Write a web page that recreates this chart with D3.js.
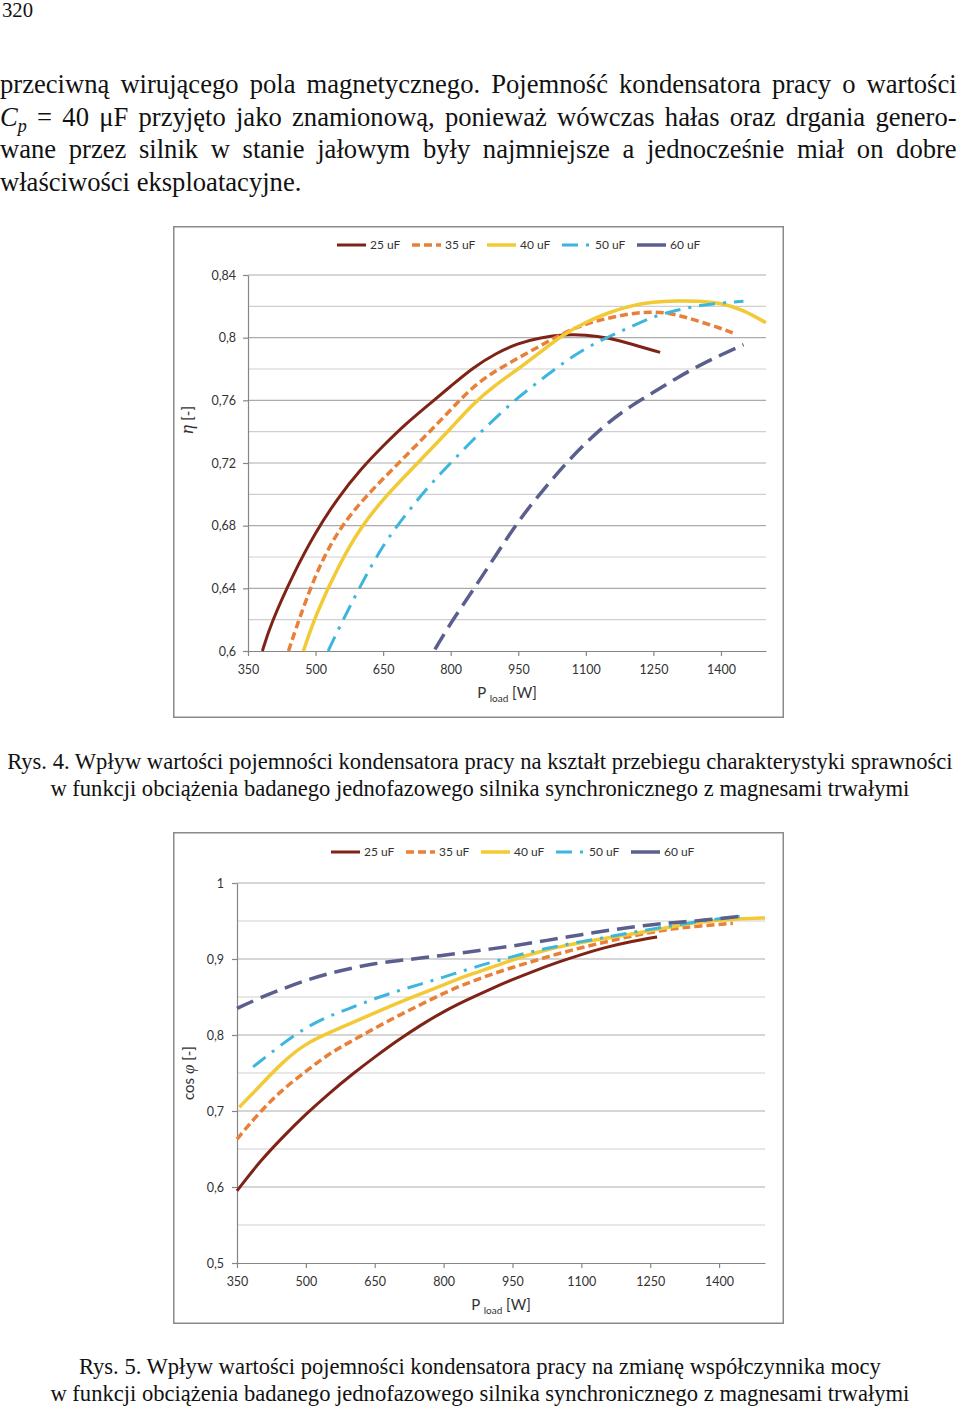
<!DOCTYPE html>
<html>
<head>
<meta charset="utf-8">
<script src="https://cdn.jsdelivr.net/npm/d3@7"></script>
<style>
  body { margin: 0; background: #fff; }
  #page {
    position: relative; width: 960px; height: 1411px; overflow: hidden;
    font-family: "Liberation Serif", "Times New Roman", serif; color: #111;
  }
  .pageno {
    position: absolute; left: 2px; top: 0; font-size: 22px; line-height: 20px;
    transform: scaleX(0.94); transform-origin: 0 0;
  }
  .para {
    position: absolute; left: 0; top: 68px; width: 1007px; font-size: 28px; line-height: 32.5px;
    transform: scaleX(0.95); transform-origin: 0 0;
  }
  .para div { text-align: justify; text-align-last: justify; white-space: nowrap; height: 32.5px; }
  .para div.last { text-align-last: left; }
  .para .sub { position: relative; top: 6px; font-size: 19px; line-height: 0; }
  .caption {
    position: absolute; left: 0; width: 960px; display: flex; justify-content: center;
    font-size: 24px; line-height: 27px;
  }
  .caption span { display: inline-block; white-space: nowrap; text-align: center; transform: scaleX(0.94); }
  svg.chart { position: absolute; left: 173px; font-family: Lato, "Open Sans", sans-serif; }
</style>
</head>
<body>
<div id="page">
  <div class="pageno">320</div>
  <div class="para">
    <div>przeciwną wirującego pola magnetycznego. Pojemność kondensatora pracy o wartości</div>
    <div><i>C<span class="sub">p</span></i> = 40 μF przyjęto jako znamionową, ponieważ wówczas hałas oraz drgania genero-</div>
    <div>wane przez silnik w stanie jałowym były najmniejsze a jednocześnie miał on dobre</div>
    <div class="last">właściwości eksploatacyjne.</div>
  </div>
  <div class="caption" style="top:748px"><span>Rys. 4. Wpływ wartości pojemności kondensatora pracy na kształt przebiegu charakterystyki sprawności<br>w funkcji obciążenia badanego jednofazowego silnika synchronicznego z magnesami trwałymi</span></div>
  <div class="caption" style="top:1353px"><span>Rys. 5. Wpływ wartości pojemności kondensatora pracy na zmianę współczynnika mocy<br>w funkcji obciążenia badanego jednofazowego silnika synchronicznego z magnesami trwałymi</span></div>
</div>
<script>
// ─── Data ───
const seriesNames = ["25 uF", "35 uF", "40 uF", "50 uF", "60 uF"];
const loadTicks = [350, 500, 650, 800, 950, 1100, 1250, 1400];
const etaTicks = [0.6, 0.64, 0.68, 0.72, 0.76, 0.8, 0.84];
const cosTicks = [0.5, 0.6, 0.7, 0.8, 0.9, 1];

// efficiency η [-] vs P_load [W]
const eta25 = [[382, 0.600], [400, 0.617], [450, 0.649], [500, 0.676], [550, 0.698], [600, 0.716],
  [650, 0.731], [700, 0.745], [750, 0.757], [800, 0.769], [850, 0.781], [900, 0.790], [950, 0.7965],
  [1000, 0.800], [1050, 0.802], [1100, 0.8018], [1150, 0.800], [1200, 0.796], [1265, 0.7906]];
const eta35 = [[440, 0.600], [450, 0.609], [500, 0.650], [550, 0.677], [600, 0.695], [650, 0.710],
  [700, 0.7245], [750, 0.739], [800, 0.754], [850, 0.769], [900, 0.779], [950, 0.787], [1000, 0.795],
  [1050, 0.803], [1100, 0.809], [1150, 0.8125], [1200, 0.8155], [1250, 0.8168], [1300, 0.815],
  [1350, 0.8105], [1400, 0.806], [1430, 0.8026]];
const eta40 = [[473, 0.600], [500, 0.623], [550, 0.654], [600, 0.679], [650, 0.697], [700, 0.712],
  [750, 0.727], [800, 0.742], [850, 0.758], [900, 0.770], [950, 0.780], [1000, 0.791], [1050, 0.802],
  [1100, 0.810], [1150, 0.816], [1200, 0.8205], [1250, 0.8228], [1300, 0.8235], [1350, 0.8235],
  [1400, 0.8222], [1450, 0.8178], [1500, 0.8095]];
const eta50 = [[528, 0.600], [550, 0.6135], [600, 0.642], [650, 0.668], [700, 0.687], [750, 0.705],
  [800, 0.720], [850, 0.735], [900, 0.749], [950, 0.762], [1000, 0.773], [1050, 0.784], [1100, 0.7935],
  [1150, 0.8005], [1200, 0.807], [1250, 0.8135], [1300, 0.8175], [1350, 0.8205], [1400, 0.8222],
  [1450, 0.8232]];
const eta60 = [[765, 0.601], [800, 0.618], [850, 0.639], [900, 0.661], [950, 0.683], [1000, 0.701],
  [1050, 0.718], [1100, 0.733], [1150, 0.746], [1200, 0.7565], [1250, 0.765], [1300, 0.774],
  [1350, 0.782], [1400, 0.789], [1450, 0.7955]];

// power factor cos φ [-] vs P_load [W]
const cos25 = [[350, 0.595], [400, 0.634], [450, 0.666], [500, 0.696], [550, 0.723], [600, 0.748],
  [650, 0.771], [700, 0.793], [750, 0.813], [800, 0.831], [850, 0.846], [900, 0.860], [950, 0.873],
  [1000, 0.885], [1050, 0.896], [1100, 0.906], [1150, 0.915], [1200, 0.922], [1265, 0.929]];
const cos35 = [[350, 0.663], [400, 0.699], [450, 0.729], [500, 0.752], [550, 0.7755], [600, 0.792],
  [650, 0.809], [700, 0.825], [750, 0.840], [800, 0.855], [850, 0.868], [900, 0.879], [950, 0.889],
  [1000, 0.898], [1050, 0.907], [1100, 0.915], [1150, 0.922], [1200, 0.929], [1250, 0.935],
  [1300, 0.940], [1350, 0.943], [1430, 0.947]];
const cos40 = [[355, 0.705], [400, 0.733], [450, 0.765], [500, 0.789], [550, 0.803], [600, 0.816],
  [650, 0.829], [700, 0.842], [750, 0.854], [800, 0.866], [850, 0.878], [900, 0.888], [950, 0.899],
  [1000, 0.908], [1050, 0.916], [1100, 0.922], [1150, 0.927], [1200, 0.932], [1250, 0.937],
  [1300, 0.943], [1350, 0.948], [1400, 0.951], [1450, 0.953], [1500, 0.954]];
const cos50 = [[385, 0.758], [450, 0.789], [500, 0.810], [550, 0.825], [600, 0.836], [650, 0.848],
  [700, 0.858], [750, 0.867], [800, 0.876], [850, 0.886], [900, 0.895], [950, 0.903], [1000, 0.911],
  [1050, 0.917], [1100, 0.923], [1150, 0.928], [1200, 0.934], [1250, 0.939], [1300, 0.944],
  [1350, 0.949], [1400, 0.953], [1445, 0.956]];
const cos60 = [[350, 0.835], [400, 0.849], [450, 0.861], [500, 0.872], [550, 0.881], [600, 0.888],
  [650, 0.894], [700, 0.898], [750, 0.901], [800, 0.905], [850, 0.909], [900, 0.913], [950, 0.917],
  [1000, 0.922], [1050, 0.927], [1100, 0.932], [1150, 0.937], [1200, 0.941], [1250, 0.945],
  [1300, 0.948], [1350, 0.950], [1400, 0.953], [1445, 0.956]];

// ─── Styles per series ───
const seriesColors = ["#7E2316", "#E8803A", "#F2CA35", "#3CB6DC", "#5A5F8E"];
const seriesDash = [null, "8,4", null, "16,8,3,8", "18,8"];
const legendDash = [null, "8,4", null, "16,8,3", null];
const seriesWidth = [3, 3.5, 3.5, 3, 3.5];

const fmtComma = (v) => String(+v.toFixed(2)).replace(".", ",");
const W = 611, H = 492;

function drawChart(cfg) {
  const svg = d3.select("#page").append("svg")
    .attr("class", "chart")
    .style("top", cfg.top + "px")
    .attr("width", W).attr("height", H);

  // frame
  svg.append("rect")
    .attr("x", 0.75).attr("y", 0.75)
    .attr("width", W - 1.5).attr("height", H - 1.5)
    .attr("fill", "#fff").attr("stroke", "#8a8a8a").attr("stroke-width", 1.5);

  const m = cfg.margin;
  const x = d3.scaleLinear().domain([350, 1500]).range([m.left, W - m.right]);
  const y = d3.scaleLinear().domain(cfg.yDomain).range([H - m.bottom, m.top]);

  // gridlines (major at labels, minor in between)
  const grid = d3.range(cfg.yDomain[0], cfg.yDomain[1] + cfg.minor / 2, cfg.minor);
  svg.append("g").selectAll("line").data(grid.slice(1)).join("line")
    .attr("x1", m.left).attr("x2", W - m.right)
    .attr("y1", (d) => y(d)).attr("y2", (d) => y(d))
    .attr("stroke", (d, i) => (i % 2 === 1 ? "#ababab" : "#cfcfcf"))
    .attr("stroke-width", 1.2);

  // axes
  const gx = svg.append("g")
    .attr("transform", `translate(0,${H - m.bottom})`)
    .call(d3.axisBottom(x).tickValues(loadTicks).tickSize(5).tickSizeOuter(0)
      .tickPadding(9).tickFormat(d3.format("d")));
  const gy = svg.append("g")
    .attr("transform", `translate(${m.left},0)`)
    .call(d3.axisLeft(y).tickValues(cfg.yTicks).tickSize(5).tickSizeOuter(0)
      .tickPadding(cfg.yPad).tickFormat(fmtComma));
  [gx, gy].forEach((g) => {
    g.select(".domain").attr("stroke", "#868686").attr("stroke-width", 1.2);
    g.selectAll(".tick line").attr("stroke", "#868686").attr("stroke-width", 1.2);
    g.selectAll("text").attr("fill", "#333").style("font-size", "12.5px")
      .style("font-family", "Lato, sans-serif");
  });

  // series lines
  const line = d3.line()
    .x((d) => x(d[0])).y((d) => y(d[1]))
    .curve(d3.curveBasis);
  svg.append("g").selectAll("path").data(cfg.series).join("path")
    .attr("d", (d) => line(d))
    .attr("fill", "none")
    .attr("stroke", (d, i) => seriesColors[i])
    .attr("stroke-width", (d, i) => seriesWidth[i])
    .attr("stroke-dasharray", (d, i) => seriesDash[i])
    .attr("stroke-linejoin", "round");

  // legend
  const lg = svg.append("g").attr("transform", `translate(${cfg.legendX},${cfg.legendY})`);
  seriesNames.forEach((name, i) => {
    const item = lg.append("g").attr("transform", `translate(${i * 75},0)`);
    item.append("line")
      .attr("x1", 0).attr("x2", 29).attr("y1", 0).attr("y2", 0)
      .attr("stroke", seriesColors[i])
      .attr("stroke-width", seriesWidth[i])
      .attr("stroke-dasharray", legendDash[i]);
    item.append("text")
      .attr("x", 33).attr("y", 0).attr("dy", "0.35em")
      .style("font-size", "12px").attr("fill", "#333")
      .text(name);
  });

  // x title: P load [W]
  const xt = svg.append("text")
    .attr("x", (m.left + W - m.right) / 2).attr("y", cfg.xTitleY)
    .attr("text-anchor", "middle").attr("fill", "#333")
    .style("font-size", "15px");
  xt.append("tspan").text("P ");
  xt.append("tspan").attr("dy", 4).style("font-size", "10px").text("load");
  xt.append("tspan").attr("dy", -4).text(" [W]");

  // y title
  const yt = svg.append("text")
    .attr("transform", `translate(${cfg.yTitleX},${cfg.yTitleY}) rotate(-90)`)
    .attr("text-anchor", "middle").attr("fill", "#333")
    .style("font-size", "15px");
  cfg.yTitle(yt);
}

drawChart({
  top: 226,
  margin: { left: 75, right: 18, top: 49, bottom: 67 },
  yDomain: [0.6, 0.84], minor: 0.02, yTicks: etaTicks, yPad: 7,
  series: [eta25, eta35, eta40, eta50, eta60],
  legendX: 164, legendY: 19,
  xTitleY: 472,
  yTitleX: 20, yTitleY: 194,
  yTitle: (t) => {
    t.append("tspan").style("font-style", "italic").style("font-family", "Liberation Serif, serif")
      .style("font-size", "19px").text("η");
    t.append("tspan").text(" [-]");
  },
});

drawChart({
  top: 832,
  margin: { left: 64, right: 19, top: 51, bottom: 61 },
  yDomain: [0.5, 1], minor: 0.05, yTicks: cosTicks, yPad: 8,
  series: [cos25, cos35, cos40, cos50, cos60],
  legendX: 158, legendY: 20,
  xTitleY: 478,
  yTitleX: 21, yTitleY: 241,
  yTitle: (t) => {
    t.append("tspan").text("cos ");
    t.append("tspan").style("font-style", "italic").style("font-family", "Liberation Serif, serif")
      .style("font-size", "17px").text("φ");
    t.append("tspan").text(" [-]");
  },
});
</script>
</body>
</html>
